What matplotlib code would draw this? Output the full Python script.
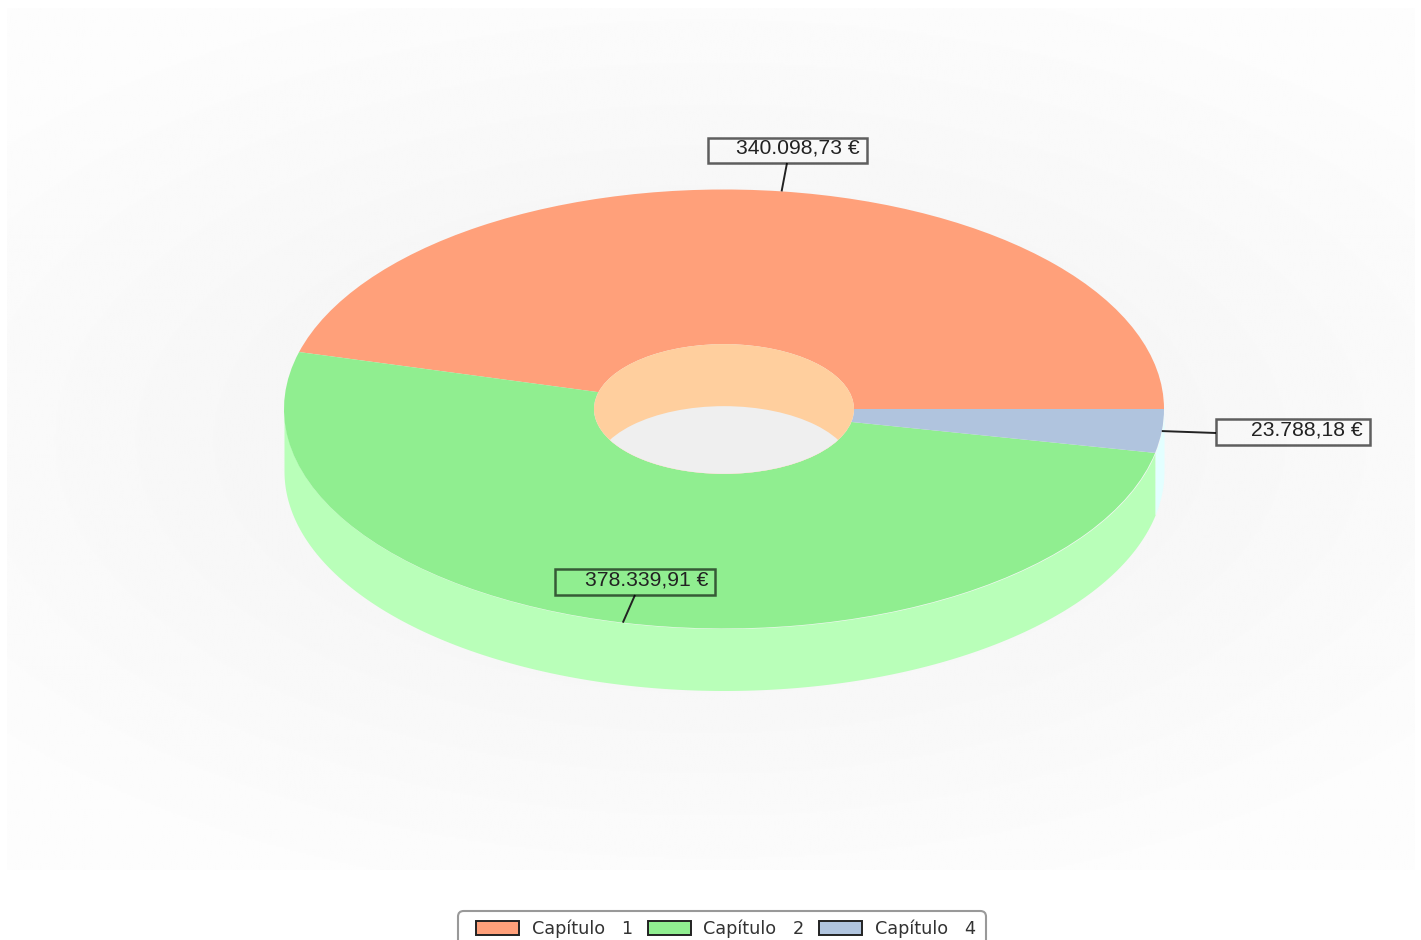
import numpy as np
import matplotlib
matplotlib.use("Agg")
import matplotlib.pyplot as plt
from matplotlib.patches import Circle, FancyBboxPatch, Patch, Rectangle

# data
labels = ["Capítulo   1", "Capítulo   2", "Capítulo   4"]
values = [340098.73, 378339.91, 23788.18]
value_labels = ["340.098,73 €", "378.339,91 €", "23.788,18 €"]
top_colors = ["#FFA07A", "#90EE90", "#B0C4DE"]
side_colors = ["#FFCF9E", "#B9FFB9", "#E3FFFF"]

# layout, all in pixels of the 1421x940 picture
W, H = 1421, 940
cx, cy = 724, 409
rx, ry = 440, 219.5
hole_rx = 130
depth = 62
# label boxes: left, top, right, bottom, where the leader joins the box
boxes = [(708, 138, 867, 163, 787, 163),
         (555, 569, 715, 595, 635, 595),
         (1216, 419, 1370, 445, 1216, 433)]


def to_data(x, y):
    return (x - cx) / rx, (cy - y) / ry


fig = plt.figure(figsize=(W / 100, H / 100), dpi=100)
ax = fig.add_axes([0, 0, 1, 1])

# soft grey glow behind the chart
gx, gy = np.meshgrid(np.linspace(-1, 1, 700), np.linspace(-1, 1, 430))
glow = np.clip(np.sqrt(gx ** 2 + (1.2 * gy) ** 2) / np.sqrt(2), 0, 1)
glow = 0xEF + (0xFD - 0xEF) * glow ** 0.8
x0, y0 = to_data(7, 8)
x1, y1 = to_data(1415, 870)
ax.imshow(glow, cmap="gray", vmin=0, vmax=255, extent=(x0, x1, y1, y0),
          aspect="auto", interpolation="bilinear", zorder=0)

# ring, squashed later by the axes limits
wedges, _ = ax.pie(values, colors=top_colors, startangle=0, counterclock=True,
                   radius=1, wedgeprops=dict(width=1 - hole_rx / rx, linewidth=0))
for w in wedges:
    w.set_zorder(3)

# outer wall, only the front half shows
d = depth / ry
edges = np.cumsum([0] + values) / sum(values) * 360
for i in range(len(values)):
    a = max(edges[i], 180)
    b = edges[i + 1]
    if b <= a:
        continue
    t = np.radians(np.linspace(a, b, 200))
    ax.fill_between(np.cos(t), np.sin(t), np.sin(t) - d, color=side_colors[i],
                    linewidth=0, zorder=2)

# hole: inner wall and floor
r = hole_rx / rx
hole = Circle((0, 0), r, facecolor=side_colors[0], linewidth=0, zorder=4)
ax.add_patch(hole)
floor = Circle((0, -d), r, facecolor="#EFEFEF", linewidth=0, zorder=5)
ax.add_patch(floor)
floor.set_clip_path(hole)

# value labels with leaders going to the middle of each slice
for i, txt in enumerate(value_labels):
    left, top, right, bottom, jx, jy = boxes[i]
    mid = np.radians((edges[i] + edges[i + 1]) / 2)
    ax.plot([np.cos(mid), to_data(jx, jy)[0]], [np.sin(mid), to_data(jx, jy)[1]],
            color="#222222", linewidth=1.4, zorder=6, solid_capstyle="butt")
    bx, by = to_data(left, bottom)
    tx, ty = to_data(right, top)
    ax.add_patch(Rectangle((bx, by), tx - bx, ty - by, facecolor="none",
                           edgecolor=(0, 0, 0, 0.62), linewidth=1.8, zorder=7))
    lx, ly = to_data(right - 7, (top + bottom) / 2 - 2)
    ax.text(lx, ly, txt, ha="right", va="center", family="Liberation Sans",
            fontsize=15.2, color="#222222", zorder=8)

ax.set_aspect("auto")
ax.set_xlim(-cx / rx, (W - cx) / rx)
ax.set_ylim(-(H - cy) / ry, cy / ry)
ax.axis("off")

# legend frame runs off the bottom of the picture
frame = FancyBboxPatch((458 / W, 1 - 960 / H), 528 / W, 49 / H,
                       boxstyle="round,pad=0,rounding_size=0.004", mutation_aspect=W / H,
                       transform=fig.transFigure, facecolor="white",
                       edgecolor="#999999", linewidth=1.5)
fig.add_artist(frame)
handles = [Patch(facecolor=c, edgecolor="#222222", linewidth=1.4) for c in top_colors]
leg = fig.legend(handles, labels, ncol=3, loc="upper left",
                 bbox_to_anchor=(476 / W, 1 - 920 / H),
                 prop=dict(family="DejaVu Sans", size=12.7),
                 frameon=False,
                 handlelength=2.45, handleheight=0.85, handletextpad=0.72,
                 columnspacing=0.82, borderpad=0, borderaxespad=0,
                 labelcolor="#333333")

fig.savefig("out.png", dpi=100, facecolor="white")
